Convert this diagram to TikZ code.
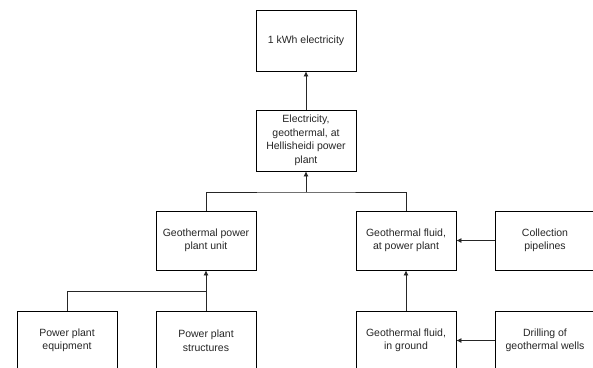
\documentclass[tikz,border=0pt]{standalone}
\usepackage{fontspec}
\setmainfont{Liberation Sans}
\usetikzlibrary{arrows.meta,positioning}
\tikzset{
  procbox/.style={draw=black,line width=0.8pt,fill=white,minimum width=100pt,
    minimum height=59pt,inner sep=2pt,align=center,text=black!85,
    font=\fontsize{10.5}{13.5}\selectfont},
  flowline/.style={draw=black!85,line width=0.8pt},
  flowarrow/.style={flowline,-{Latex[length=5pt,width=5pt]}}
}
\begin{document}
\begin{tikzpicture}[x=1pt,y=-1pt]
\useasboundingbox[fill=white] (0,0) rectangle (593,367);
\clip (0,0) rectangle (593,367);

% top of the tree
\node[procbox,minimum height=61pt] (kwh) at (306,40.5) {1 kWh electricity};
\node[procbox,minimum height=61pt] (elec) at (306,140.5) {Electricity,\\geothermal, at\\Hellisheidi power\\plant};

% second level
\node[procbox] (unit) at (206,240.5) {Geothermal power\\plant unit};
\node[procbox] (fluid) at (406,240.5) {Geothermal fluid,\\at power plant};
\node[procbox] (pipes) at (545,240.5) {Collection\\pipelines};

% third level
\node[procbox] (equip) at (67,340.5) {Power plant\\equipment};
\node[procbox] (struct) at (206,340.5) {Power plant\\structures};
\node[procbox] (ground) at (406,340.5) {Geothermal fluid,\\in ground};
\node[procbox] (wells) at (545,340.5) {Drilling of\\geothermal wells};

\coordinate (bus) at (306,192);
\coordinate (unitbus) at (206,291);

\draw[flowarrow] (elec) -- (kwh);
\draw[flowline] (unit.north) |- (bus) -| (fluid.north);
\draw[flowarrow] (bus) -- (elec);
\draw[flowline] (equip.north) |- (unitbus);
\draw[flowarrow] (struct) -- (unit);
\draw[flowarrow] (pipes) -- (fluid);
\draw[flowarrow] (ground) -- (fluid);
\draw[flowarrow] (wells) -- (ground);
\end{tikzpicture}
\end{document}
